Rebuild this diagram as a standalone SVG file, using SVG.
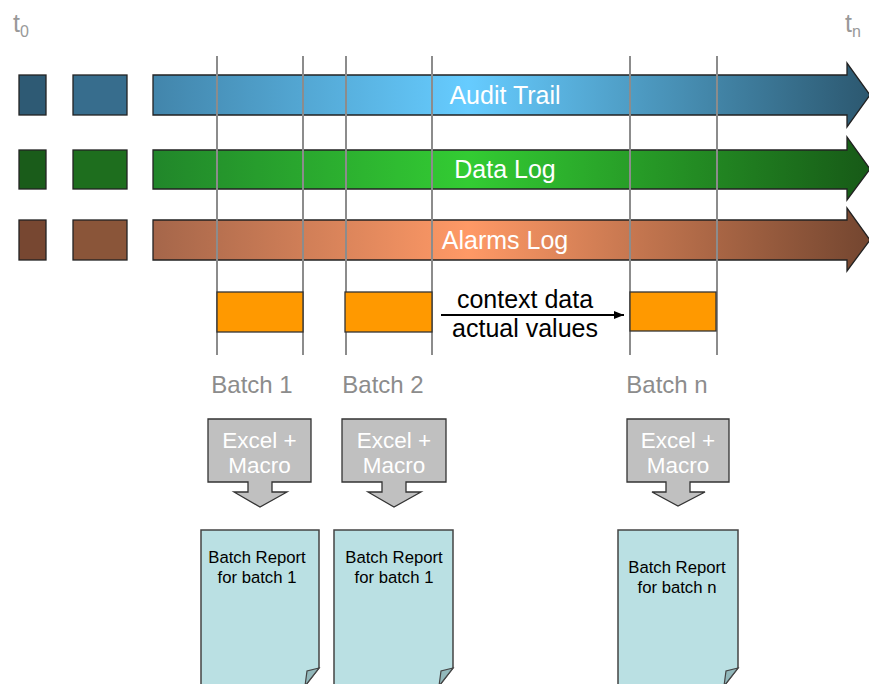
<svg xmlns="http://www.w3.org/2000/svg" width="869" height="684" viewBox="0 0 869 684">
<defs>
<linearGradient id="gA" gradientUnits="userSpaceOnUse" x1="153" y1="0" x2="869" y2="0">
<stop offset="0" stop-color="#4285ab"/><stop offset="0.44" stop-color="#66ccff"/><stop offset="1" stop-color="#2c5870"/>
</linearGradient>
<linearGradient id="gD" gradientUnits="userSpaceOnUse" x1="153" y1="0" x2="869" y2="0">
<stop offset="0" stop-color="#21862a"/><stop offset="0.44" stop-color="#33cc33"/><stop offset="1" stop-color="#175a17"/>
</linearGradient>
<linearGradient id="gL" gradientUnits="userSpaceOnUse" x1="153" y1="0" x2="869" y2="0">
<stop offset="0" stop-color="#a5664a"/><stop offset="0.44" stop-color="#ff9966"/><stop offset="1" stop-color="#744630"/>
</linearGradient>
<marker id="ah" viewBox="0 0 10 10" refX="10" refY="5" markerWidth="10" markerHeight="10" markerUnits="userSpaceOnUse" orient="auto">
<path d="M0,1 L10,5 L0,9 Z" fill="#000"/>
</marker>
<style>
text{font-family:"Liberation Sans",Arial,sans-serif}
.band{stroke:#222;stroke-width:1.3}
.sq{stroke:#222;stroke-width:1.3}
.bl{fill:#fff;font-size:25px;text-anchor:middle}
.vl{stroke:#8c8c8c;stroke-width:2}
.ob{fill:#ff9900;stroke:#333;stroke-width:1.3}
.bt{fill:#8c8c8c;font-size:24px;text-anchor:middle}
.ex{fill:#c0c0c0;stroke:#333;stroke-width:1.3}
.et{fill:#fff;font-size:22.5px;text-anchor:middle}
.rp{fill:#bae0e3;stroke:#444;stroke-width:1.5}
.fold{fill:#92b8bb;stroke:#444;stroke-width:1.2}
.rt{fill:#000;font-size:16.7px;text-anchor:middle}
.tt{fill:#999;font-size:25px}
</style>
</defs>
<g id="time-labels">
<text class="tt" x="13" y="32">t<tspan font-size="16" dy="5">0</tspan></text>
<text class="tt" x="845" y="32">t<tspan font-size="16" dy="5">n</tspan></text>
</g>
<g id="audit-trail">
<rect class="sq" x="19" y="75" width="27" height="40" fill="#2e5a74"/>
<rect class="sq" x="73" y="75" width="54" height="40" fill="#376d8d"/>
<path class="band" d="M153,75 H847 V63 L870,95 L847,127 V115 H153 Z" fill="url(#gA)"/>
<text class="bl" x="505" y="104">Audit Trail</text>
</g>
<g id="data-log">
<rect class="sq" x="19" y="150" width="27" height="39" fill="#1a5c1a"/>
<rect class="sq" x="73" y="150" width="54" height="39" fill="#1e6e1e"/>
<path class="band" d="M153,150 H847 V137 L870,169 L847,200 V189 H153 Z" fill="url(#gD)"/>
<text class="bl" x="505" y="178">Data Log</text>
</g>
<g id="alarms-log">
<rect class="sq" x="19" y="220" width="27" height="40" fill="#774731"/>
<rect class="sq" x="73" y="220" width="54" height="40" fill="#8a5539"/>
<path class="band" d="M153,220 H847 V208 L870,240 L847,271 V260 H153 Z" fill="url(#gL)"/>
<text class="bl" x="505" y="249">Alarms Log</text>
</g>
<g id="batch-lines">
<line class="vl" x1="217" y1="56" x2="217" y2="355"/>
<line class="vl" x1="303" y1="56" x2="303" y2="355"/>
<line class="vl" x1="346" y1="56" x2="346" y2="355"/>
<line class="vl" x1="432" y1="56" x2="432" y2="355"/>
<line class="vl" x1="630" y1="56" x2="630" y2="355"/>
<line class="vl" x1="717" y1="56" x2="717" y2="355"/>
</g>
<g id="batch1">
<rect class="ob" x="217" y="292" width="86" height="40"/>
<text class="bt" x="252" y="393">Batch 1</text>
</g>
<g id="batch2">
<rect class="ob" x="345" y="292" width="87" height="40"/>
<text class="bt" x="383" y="393">Batch 2</text>
</g>
<g id="batchn">
<rect class="ob" x="630" y="292" width="86" height="39"/>
<text class="bt" x="667" y="393">Batch n</text>
</g>
<g id="connectors">
<line x1="441" y1="315" x2="624" y2="315" stroke="#000" stroke-width="2" marker-end="url(#ah)"/>
<text x="525" y="308" font-size="25" text-anchor="middle" fill="#000">context data</text>
<text x="525" y="337" font-size="25" text-anchor="middle" fill="#000">actual values</text>
</g>
<g id="excel1">
<path class="ex" d="M208,419 H311 V482 H272 V492 H287 L260,507 L234,492 H248 V482 H208 Z"/>
<text class="et" x="259.5" y="448">Excel +</text>
<text class="et" x="259.5" y="473">Macro</text>
</g>
<g id="excel2">
<path class="ex" d="M342,419 H446 V482 H406 V492 H421 L394,507 L368,492 H382 V482 H342 Z"/>
<text class="et" x="394" y="448">Excel +</text>
<text class="et" x="394" y="473">Macro</text>
</g>
<g id="exceln">
<path class="ex" d="M627,419 H729 V482 H690 V492 H705 L678,506 L652,492 H666 V482 H627 Z"/>
<text class="et" x="678" y="448">Excel +</text>
<text class="et" x="678" y="473">Macro</text>
</g>
<g id="report1">
<path class="rp" d="M201,530 H319 V668 L305,686 H201 Z"/>
<path class="fold" d="M319,668 L307,671 L305,686 Z"/>
<text class="rt" x="257" y="563">Batch Report</text>
<text class="rt" x="257" y="583">for batch 1</text>
</g>
<g id="report2">
<path class="rp" d="M334,530 H453 V668 L439,686 H334 Z"/>
<path class="fold" d="M453,668 L441,671 L439,686 Z"/>
<text class="rt" x="394" y="563">Batch Report</text>
<text class="rt" x="394" y="583">for batch 1</text>
</g>
<g id="reportn">
<path class="rp" d="M618,530 H738 V668 L724,686 H618 Z"/>
<path class="fold" d="M738,668 L726,671 L724,686 Z"/>
<text class="rt" x="677" y="573">Batch Report</text>
<text class="rt" x="677" y="593">for batch n</text>
</g>
</svg>
